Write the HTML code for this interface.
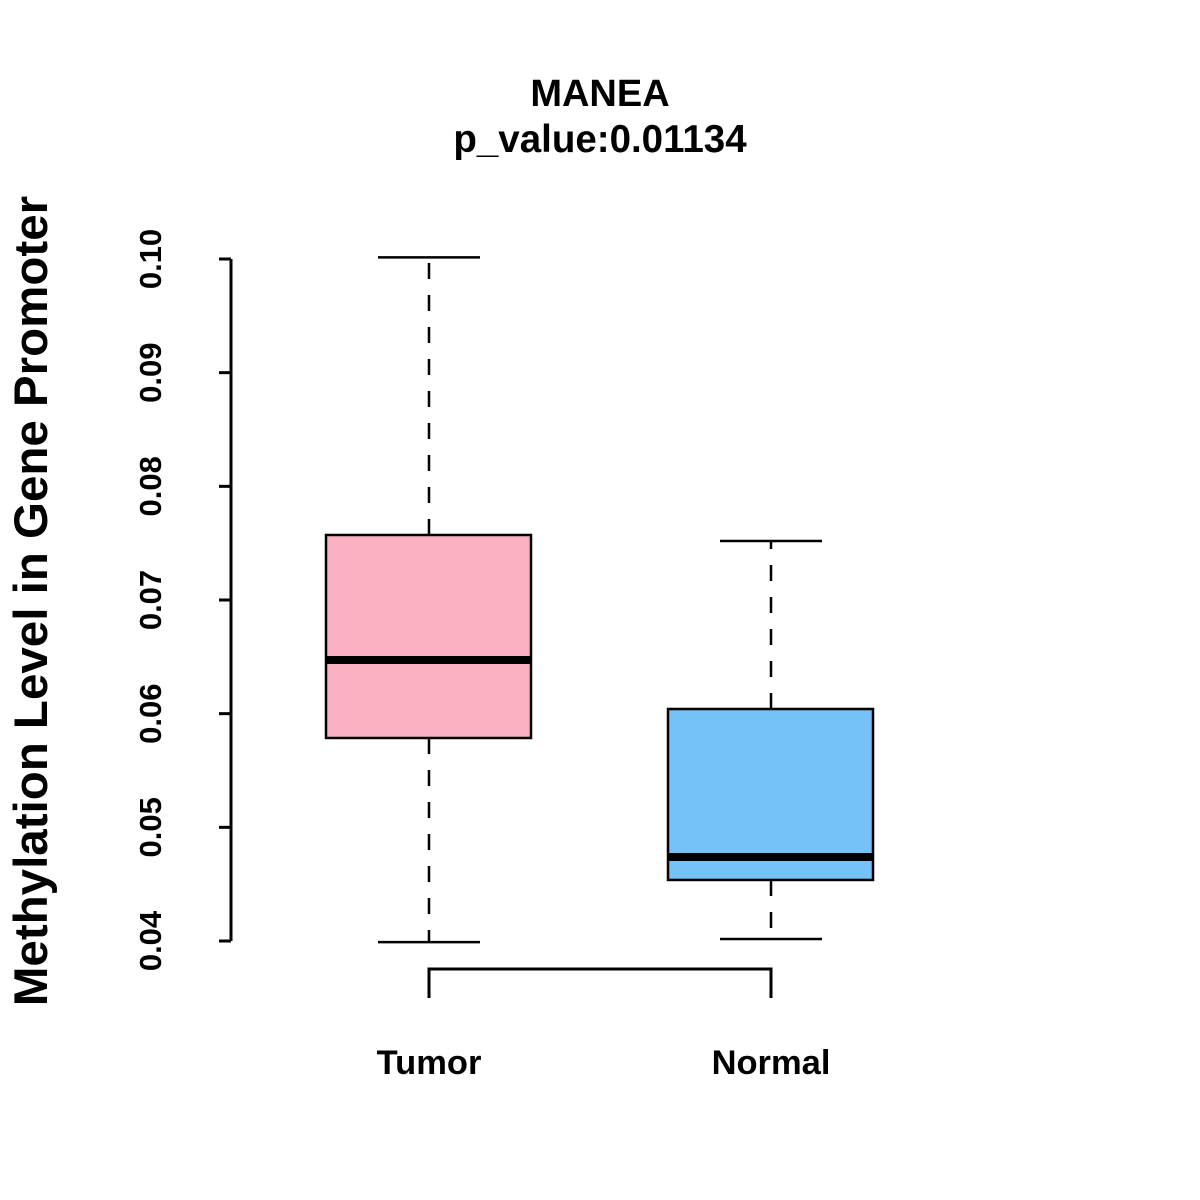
<!DOCTYPE html>
<html><head><meta charset="utf-8"><style>
html,body{margin:0;padding:0;background:#fff;}
svg{display:block;font-family:"Liberation Sans",Arial,sans-serif;font-weight:bold;}
</style></head><body>
<svg id="chart" width="1200" height="1200" viewBox="0 0 1200 1200">
<text x="600" y="106" text-anchor="middle" font-size="38">MANEA</text>
<text x="600" y="152" text-anchor="middle" font-size="38.5">p_value:0.01134</text>
<text transform="translate(47,601) rotate(-90)" text-anchor="middle" font-size="47.5">Methylation Level in Gene Promoter</text>
<g id="plot"></g>
</svg>
<script>
const categories = ["Tumor","Normal"];
const mins = [0.03990, 0.04018];
const q1s = [0.05786, 0.04537];
const medians = [0.06472, 0.04739];
const q3s = [0.07572, 0.06041];
const maxs = [0.10014, 0.07519];
const colors = ["#FCB1C3","#76C1F8"];
const yTicks = [0.04,0.05,0.06,0.07,0.08,0.09,0.10];
const yTickLabels = ["0.04","0.05","0.06","0.07","0.08","0.09","0.10"];

const NS="http://www.w3.org/2000/svg";
const g=document.getElementById('plot');
const y=v=>941-(v-0.04)/0.06*682;
const x=i=>429+i*342;
function mk(t,a){const e=document.createElementNS(NS,t);for(const k in a)e.setAttribute(k,a[k]);g.appendChild(e);return e;}

let e=mk('line',{x1:231,x2:231,y1:y(yTicks[0]),y2:y(yTicks[yTicks.length-1]),stroke:'#000','stroke-width':3});


yTicks.forEach((t,i)=>{
  let tk=mk('line',{x1:219,x2:231,y1:y(t),y2:y(t),stroke:'#000','stroke-width':3});
  
  
  let lb=mk('text',{transform:`translate(161,${y(t)}) rotate(-90)`,'text-anchor':'middle','font-size':31});
  lb.textContent=yTickLabels[i];
  
  
});
let br=mk('path',{d:`M${x(0)},998 V969 H${x(1)} V998`,fill:'none',stroke:'#000','stroke-width':3});



categories.forEach((c,i)=>{
  const cx=x(i);
  const ds={stroke:'#000','stroke-width':2.5,'stroke-dasharray':'16,16'};
  let w1=mk('line',Object.assign({x1:cx,x2:cx,y1:y(q3s[i]),y2:y(maxs[i])},ds));
  
  
  let w2=mk('line',Object.assign({x1:cx,x2:cx,y1:y(q1s[i]),y2:y(mins[i])},ds));
  
  
  let c1=mk('line',{x1:cx-51,x2:cx+51,y1:y(maxs[i]),y2:y(maxs[i]),stroke:'#000','stroke-width':2.5});
  
  
  let c2=mk('line',{x1:cx-51,x2:cx+51,y1:y(mins[i]),y2:y(mins[i]),stroke:'#000','stroke-width':2.5});
  
  
  let b=mk('rect',{x:cx-103,width:205,y:y(q3s[i]),height:y(q1s[i])-y(q3s[i]),fill:colors[i],stroke:'#000','stroke-width':2.5});
  
  
  let m=mk('line',{x1:cx-103,x2:cx+102,y1:y(medians[i]),y2:y(medians[i]),stroke:'#000','stroke-width':8});
  
  
  let t=mk('text',{x:cx,y:1074,'text-anchor':'middle','font-size':34.5});
  t.textContent=c;
  
  
});
</script>
</body></html>
